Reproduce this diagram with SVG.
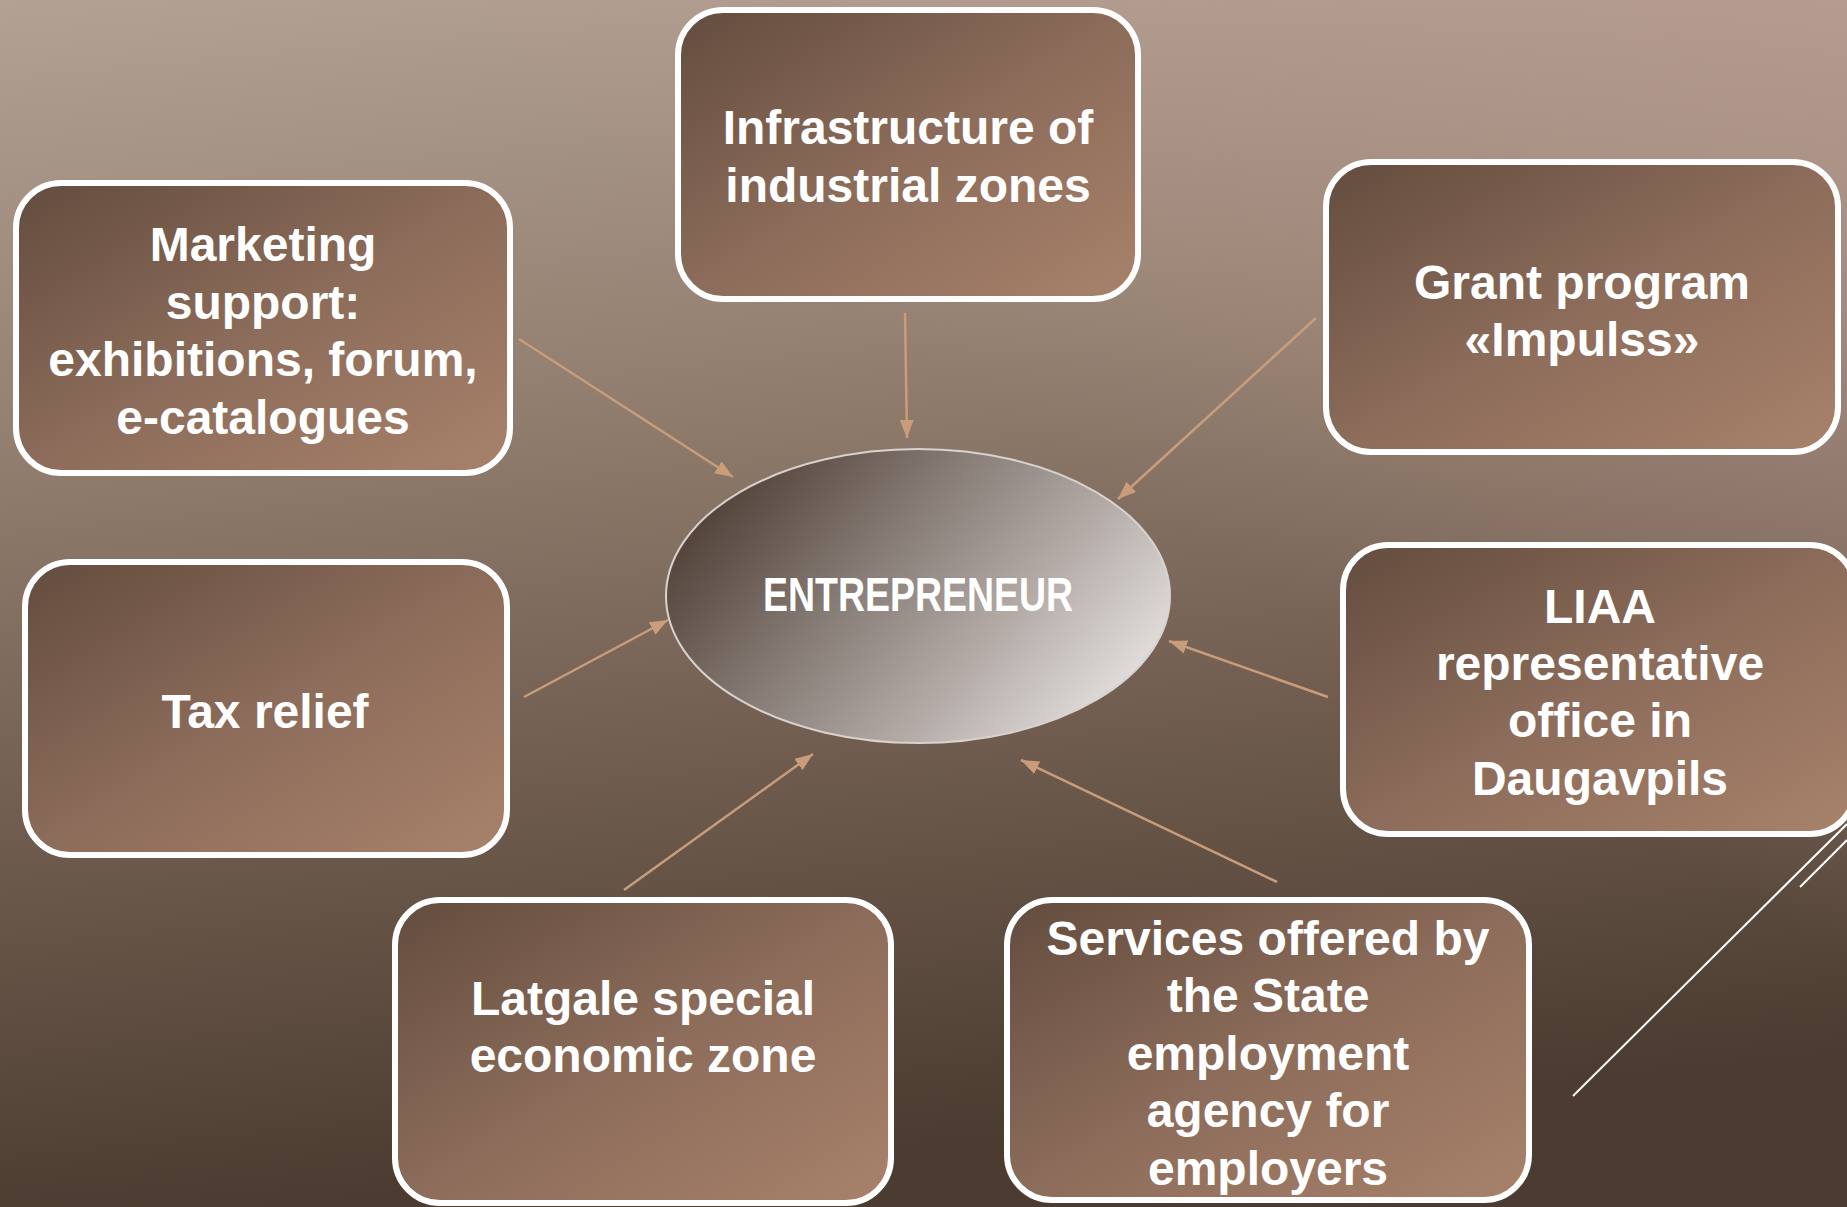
<svg xmlns="http://www.w3.org/2000/svg" width="1847" height="1207" viewBox="0 0 1847 1207">
<defs>
<linearGradient id="bg" x1="0" y1="0" x2="0.15" y2="1">
<stop offset="0" stop-color="#b3a194"/>
<stop offset="0.35" stop-color="#938071"/>
<stop offset="0.65" stop-color="#725f51"/>
<stop offset="1" stop-color="#4b3b30"/>
</linearGradient>
<linearGradient id="bgtr" x1="1" y1="0" x2="0.6" y2="0.4">
<stop offset="0" stop-color="#c0a096" stop-opacity="0.6"/>
<stop offset="1" stop-color="#c0a096" stop-opacity="0"/>
</linearGradient>
<linearGradient id="box" x1="0" y1="0" x2="1" y2="1">
<stop offset="0" stop-color="#634c3e"/>
<stop offset="0.5" stop-color="#8c6c5a"/>
<stop offset="1" stop-color="#a8826b"/>
</linearGradient>
<linearGradient id="ell" x1="0" y1="0.3" x2="1" y2="0.8">
<stop offset="0" stop-color="#4f3f36"/>
<stop offset="0.35" stop-color="#857a74"/>
<stop offset="0.65" stop-color="#b3aaa6"/>
<stop offset="1" stop-color="#ebe9e8"/>
</linearGradient>
<marker id="ah" markerUnits="userSpaceOnUse" markerWidth="20" markerHeight="16" refX="18" refY="7" orient="auto">
<path d="M0,0 L18,7 L0,14 Z" fill="#c99d7b"/>
</marker>
<style>
.box{fill:url(#box);stroke:#ffffff;stroke-width:6}
.t{font-family:"Liberation Sans","Arial",sans-serif;font-weight:bold;font-size:48px;fill:#ffffff;text-anchor:middle}
.c{stroke:#c99d7b;stroke-width:2.5;fill:none;marker-end:url(#ah)}
.deco{stroke:#ffffff;stroke-width:2;fill:none}
</style>
</defs>
<rect x="0" y="0" width="1847" height="1207" fill="url(#bg)"/>
<rect x="0" y="0" width="1847" height="1207" fill="url(#bgtr)"/>

<g id="decor">
<line class="deco" x1="1573" y1="1096" x2="1847" y2="824"/>
<line class="deco" x1="1800" y1="887" x2="1847" y2="840"/>
</g>

<g id="connectors">
<line class="c" x1="519" y1="339" x2="733" y2="477"/>
<line class="c" x1="905" y1="313" x2="907" y2="438"/>
<line class="c" x1="1316" y1="318" x2="1118" y2="499"/>
<line class="c" x1="524" y1="697" x2="668" y2="620"/>
<line class="c" x1="1328" y1="697" x2="1169" y2="641"/>
<line class="c" x1="624" y1="890" x2="813" y2="754"/>
<line class="c" x1="1277" y1="882" x2="1021" y2="760"/>
</g>

<g id="n-entrepreneur">
<ellipse cx="918" cy="596" rx="252" ry="147" fill="url(#ell)" stroke="#d9d2ce" stroke-width="2"/>
<text class="t" x="918" y="611" font-size="47" textLength="310" lengthAdjust="spacingAndGlyphs">ENTREPRENEUR</text>
</g>

<g id="n-marketing">
<rect class="box" x="16" y="183" width="494" height="290" rx="45"/>
<text class="t" x="263" y="261">Marketing</text>
<text class="t" x="263" y="319">support:</text>
<text class="t" x="263" y="376">exhibitions, forum,</text>
<text class="t" x="263" y="434">e-catalogues</text>
</g>

<g id="n-infrastructure">
<rect class="box" x="678" y="10" width="460" height="289" rx="45"/>
<text class="t" x="908" y="144">Infrastructure of</text>
<text class="t" x="908" y="202">industrial zones</text>
</g>

<g id="n-grant">
<rect class="box" x="1326" y="162" width="512" height="290" rx="45"/>
<text class="t" x="1582" y="299">Grant program</text>
<text class="t" x="1582" y="356">«Impulss»</text>
</g>

<g id="n-liaa">
<rect class="box" x="1343" y="545" width="512" height="289" rx="45"/>
<text class="t" x="1600" y="623">LIAA</text>
<text class="t" x="1600" y="680">representative</text>
<text class="t" x="1600" y="737">office in</text>
<text class="t" x="1600" y="795">Daugavpils</text>
</g>

<g id="n-tax">
<rect class="box" x="25" y="562" width="482" height="293" rx="45"/>
<text class="t" x="265" y="728">Tax relief</text>
</g>

<g id="n-latgale">
<rect class="box" x="395" y="900" width="496" height="303" rx="45"/>
<text class="t" x="643" y="1015">Latgale special</text>
<text class="t" x="643" y="1072">economic zone</text>
</g>

<g id="n-services">
<rect class="box" x="1007" y="900" width="522" height="300" rx="45"/>
<text class="t" x="1268" y="955">Services offered by</text>
<text class="t" x="1268" y="1012">the State</text>
<text class="t" x="1268" y="1070">employment</text>
<text class="t" x="1268" y="1127">agency for</text>
<text class="t" x="1268" y="1185">employers</text>
</g>
</svg>
